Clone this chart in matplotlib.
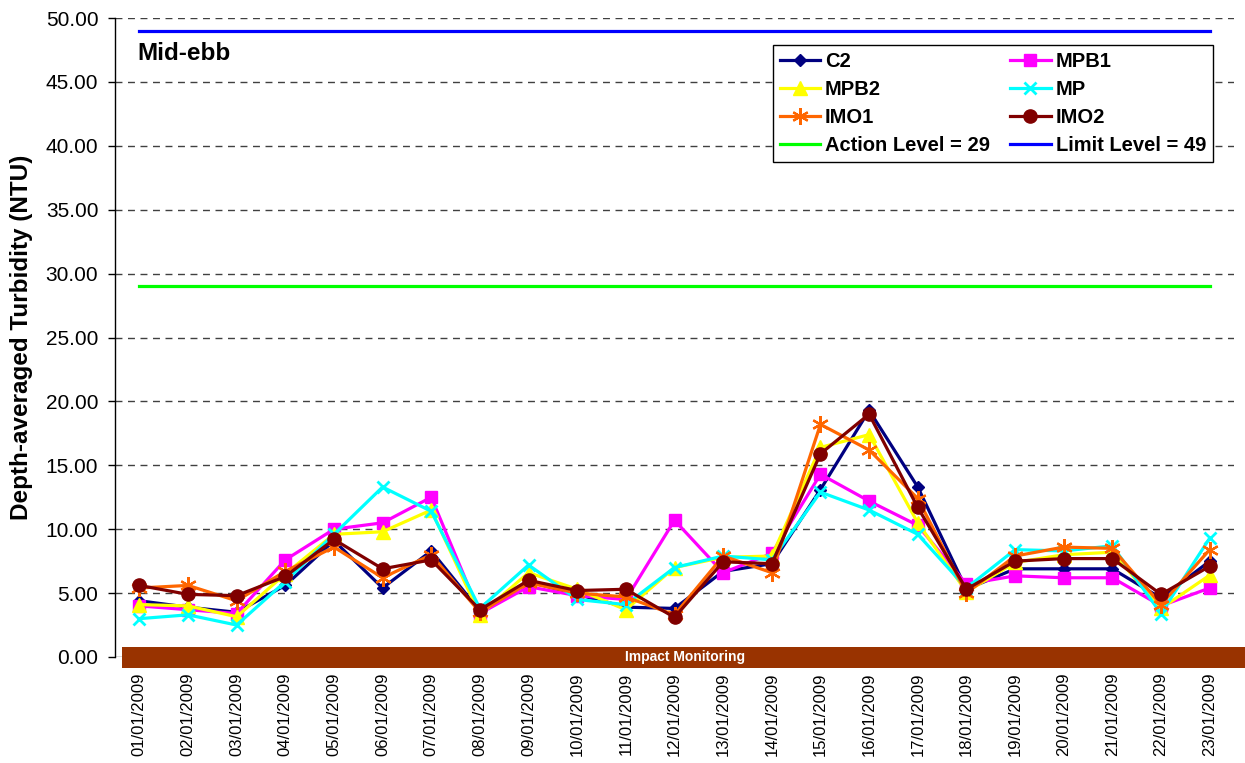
import matplotlib
matplotlib.use("Agg")
import matplotlib.pyplot as plt
from matplotlib.patches import Rectangle
from matplotlib.ticker import FormatStrFormatter, MultipleLocator

plt.rcParams['font.family'] = ['Liberation Sans', 'DejaVu Sans']

dates = ["01/01/2009", "02/01/2009", "03/01/2009", "04/01/2009", "05/01/2009",
         "06/01/2009", "07/01/2009", "08/01/2009", "09/01/2009", "10/01/2009",
         "11/01/2009", "12/01/2009", "13/01/2009", "14/01/2009", "15/01/2009",
         "16/01/2009", "17/01/2009", "18/01/2009", "19/01/2009", "20/01/2009",
         "21/01/2009", "22/01/2009", "23/01/2009"]

c2 = [4.4, 3.9, 3.5, 5.6, 9.1, 5.4, 8.3, 3.6, 5.9, 4.9, 3.9, 3.8, 6.7, 7.3,
      13.1, 19.3, 13.3, 5.3, 6.9, 6.9, 6.9, 4.6, 7.5]
mpb1 = [4.0, 3.7, 3.4, 7.6, 10.0, 10.5, 12.5, 3.4, 5.5, 4.8, 4.5, 10.7, 6.6, 8.1,
        14.3, 12.2, 10.3, 5.7, 6.35, 6.2, 6.2, 4.0, 5.4]
mpb2 = [4.1, 4.0, 3.15, 6.5, 9.6, 9.8, 11.5, 3.3, 6.6, 5.3, 3.7, 7.0, 7.8, 7.9,
        16.4, 17.4, 10.5, 5.1, 7.4, 8.0, 8.2, 3.8, 6.4]
mp = [3.0, 3.3, 2.5, 5.9, 9.6, 13.3, 11.4, 3.8, 7.2, 4.5, 4.1, 7.0, 7.9, 7.6,
      12.9, 11.5, 9.6, 5.4, 8.4, 8.3, 8.7, 3.4, 9.3]
imo1 = [5.4, 5.6, 4.4, 6.7, 8.6, 6.2, 8.0, 3.5, 5.8, 5.0, 4.7, 3.3, 7.9, 6.6,
        18.2, 16.2, 12.4, 5.0, 7.9, 8.6, 8.5, 4.1, 8.4]
imo2 = [5.6, 4.9, 4.8, 6.3, 9.2, 6.9, 7.6, 3.7, 6.0, 5.2, 5.3, 3.1, 7.45, 7.3,
        15.9, 19.0, 11.7, 5.3, 7.5, 7.7, 7.7, 4.9, 7.1]
action_level = 29
limit_level = 49

W, H = 1245, 763
fig = plt.figure(figsize=(W / 100, H / 100), dpi=100)
ax_l, ax_r, ax_t, ax_b = 115, 1234, 18, 657
ax = fig.add_axes([ax_l / W, 1 - ax_b / H, (ax_r - ax_l) / W, (ax_b - ax_t) / H])

x = list(range(len(dates)))
lw = 2.3
h_c2, = ax.plot(x, c2, color='#000080', marker='D', markersize=6.5, lw=lw, label='C2')
h_mpb1, = ax.plot(x, mpb1, color='#FF00FF', marker='s', markersize=8.5, lw=lw, label='MPB1')
h_mpb2, = ax.plot(x, mpb2, color='#FFFF00', marker='^', markersize=9.5, lw=lw, label='MPB2')
h_mp, = ax.plot(x, mp, color='#00FFFF', marker='x', markersize=9, mew=2, lw=lw, label='MP')
h_imo1, = ax.plot(x, imo1, color='#FF6600', marker=(6, 2, 0), markersize=12, mew=1.6, lw=lw, label='IMO1')
h_imo2, = ax.plot(x, imo2, color='#800000', marker='o', markersize=9.5, lw=lw, label='IMO2')
h_act, = ax.plot(x, [action_level] * len(x), color='#00FF00', lw=2.3, label='Action Level = 29')
h_lim, = ax.plot(x, [limit_level] * len(x), color='#0000FF', lw=2.3, label='Limit Level = 49')

ax.set_xlim(-0.5, len(x) - 0.5)
ax.set_ylim(0, 50)
ax.yaxis.set_major_locator(MultipleLocator(5))
ax.yaxis.set_major_formatter(FormatStrFormatter('%.2f'))
ax.grid(axis='y', color='#404040', linestyle=(0, (5, 4)), lw=1.0)
ax.set_axisbelow(True)
for s in ['top', 'right', 'bottom']:
    ax.spines[s].set_visible(False)
ax.spines['left'].set_color('black')
ax.spines['left'].set_linewidth(1.0)

ax.set_xticks(x)
ax.set_xticklabels(dates, rotation=90, fontsize=12, va='top')
ax.tick_params(axis='x', length=0, pad=11)
ax.tick_params(axis='y', length=5, width=1, direction='out', pad=7, labelsize=15)

fig.text(22 / W, 1 - 337 / H, 'Depth-averaged Turbidity (NTU)', rotation=90,
         ha='center', va='center', fontsize=17.5, fontweight='bold')

ax.text((137 - ax_l) / (ax_r - ax_l), (ax_b - 53) / (ax_b - ax_t), 'Mid-ebb',
        transform=ax.transAxes, ha='left', va='center', fontsize=17.5, fontweight='bold')

handles = [h_c2, h_mpb2, h_imo1, h_act, h_mpb1, h_mp, h_imo2, h_lim]
leg = ax.legend(handles=handles, ncol=2, loc='upper right',
                bbox_to_anchor=((1213 - ax_l) / (ax_r - ax_l), (ax_b - 45) / (ax_b - ax_t)),
                borderaxespad=0, frameon=True, fancybox=False, framealpha=1,
                edgecolor='black', prop={'weight': 'bold', 'size': 14.5},
                handlelength=2.0, handletextpad=0.25, labelspacing=0.45,
                columnspacing=1.0, borderpad=0.35)
leg.get_frame().set_linewidth(1.0)

bar = Rectangle((122 / W, 1 - 668 / H), 1 - 122 / W, 21 / H, transform=fig.transFigure,
                facecolor='#993300', edgecolor='none', zorder=5)
fig.patches.append(bar)
fig.text(685 / W, 1 - 657.5 / H, 'Impact Monitoring', color='white', fontsize=10,
         fontweight='bold', ha='center', va='center', zorder=6)

fig.savefig('out.png', dpi=100)
